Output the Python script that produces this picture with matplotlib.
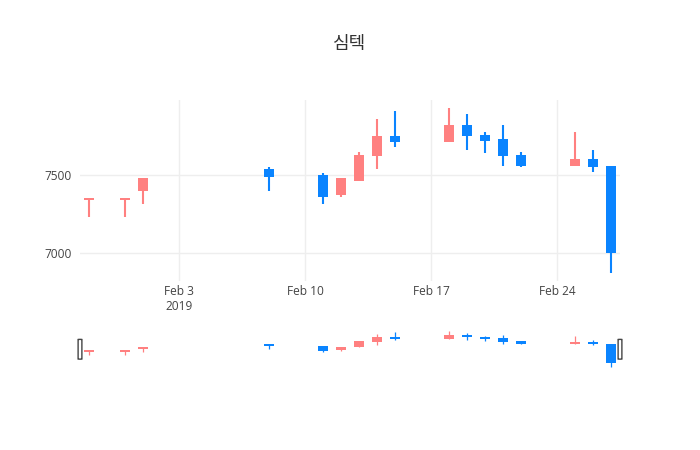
import datetime as dt

import matplotlib
matplotlib.use("Agg")
import matplotlib.dates as mdates
import matplotlib.pyplot as plt
import numpy as np
from matplotlib.patches import FancyBboxPatch

plt.rcParams["font.family"] = ["Open Sans", "Noto Sans CJK KR", "DejaVu Sans"]

# daily OHLC (KRW)
dates = ["2019-01-29", "2019-01-31", "2019-02-01", "2019-02-08",
         "2019-02-11", "2019-02-12", "2019-02-13", "2019-02-14", "2019-02-15",
         "2019-02-18", "2019-02-19", "2019-02-20", "2019-02-21", "2019-02-22",
         "2019-02-25", "2019-02-26", "2019-02-27"]
opens = [7340, 7340, 7400, 7540, 7500, 7370, 7460, 7620, 7750,
         7710, 7820, 7760, 7730, 7630, 7560, 7600, 7560]
highs = [7350, 7350, 7480, 7550, 7510, 7480, 7650, 7860, 7910,
         7930, 7890, 7780, 7820, 7650, 7780, 7660, 7560]
lows = [7230, 7230, 7310, 7400, 7310, 7360, 7460, 7540, 7680,
        7710, 7660, 7640, 7560, 7550, 7560, 7520, 6870]
closes = [7350, 7350, 7480, 7490, 7360, 7480, 7630, 7750, 7710,
          7820, 7750, 7720, 7620, 7560, 7600, 7550, 7000]

title = "심텍"
tick_dates = ["2019-02-03", "2019-02-10", "2019-02-17", "2019-02-24"]
tick_labels = ["Feb 3\n2019", "Feb 10", "Feb 17", "Feb 24"]
y_ticks = [7000, 7500]

UP = "#ff8080"
DOWN = "#0a84ff"
TEXT = "#444444"
GRID = "#eeeeee"

x = mdates.date2num([dt.datetime.fromisoformat(d) for d in dates])
o = np.array(opens, float)
h = np.array(highs, float)
l = np.array(lows, float)
c = np.array(closes, float)
colors = [UP if cc >= oo else DOWN for oo, cc in zip(o, c)]

xlo, xhi = x.min() - 0.5, x.max() + 0.5
pad = (h.max() - l.min()) * 0.05
ylo, yhi = l.min() - pad, h.max() + pad


def draw_candles(ax, wick_lw, min_body):
    ax.vlines(x, l, h, colors=colors, lw=wick_lw, zorder=2)
    mid = (o + c) / 2
    body = np.maximum(np.abs(c - o), min_body)
    ax.bar(x, body, bottom=mid - body / 2, width=0.6, color=colors,
           linewidth=0, zorder=3)
    ax.set_xlim(xlo, xhi)
    ax.set_ylim(ylo, yhi)


fig = plt.figure(figsize=(7, 4.5), dpi=100)
ax = fig.add_axes([80 / 700, 1 - 281 / 450, 540 / 700, 181 / 450])
draw_candles(ax, 1.5, 14)

ax.set_xticks(mdates.date2num([dt.datetime.fromisoformat(d) for d in tick_dates]))
ax.set_xticklabels(tick_labels)
ax.set_yticks(y_ticks)
ax.grid(True, color=GRID, lw=1)
ax.set_axisbelow(True)
ax.tick_params(axis="x", length=0, labelsize=8.6, colors=TEXT, pad=3)
ax.tick_params(axis="y", length=0, labelsize=8.6, colors=TEXT, pad=6)
for s in ax.spines.values():
    s.set_visible(False)

fig.text(0.5, 1 - 44 / 450, title, ha="center", va="center",
         fontsize=13, color="#333333")

# range slider
ax_rs = fig.add_axes([80 / 700, 1 - 369 / 450, 540 / 700, 39.5 / 450])
draw_candles(ax_rs, 0.9, 60)
ax_rs.set_xticks([])
ax_rs.set_yticks([])
for s in ax_rs.spines.values():
    s.set_visible(False)
for hx in (0.0, 1.0):
    ax_rs.add_patch(FancyBboxPatch((hx - 0.0035, 0.25), 0.007, 0.5,
                                   boxstyle="round,pad=0,rounding_size=0.003",
                                   transform=ax_rs.transAxes, clip_on=False,
                                   facecolor="white", edgecolor="#444444",
                                   lw=1, zorder=5))

fig.savefig("out.png", dpi=100)
